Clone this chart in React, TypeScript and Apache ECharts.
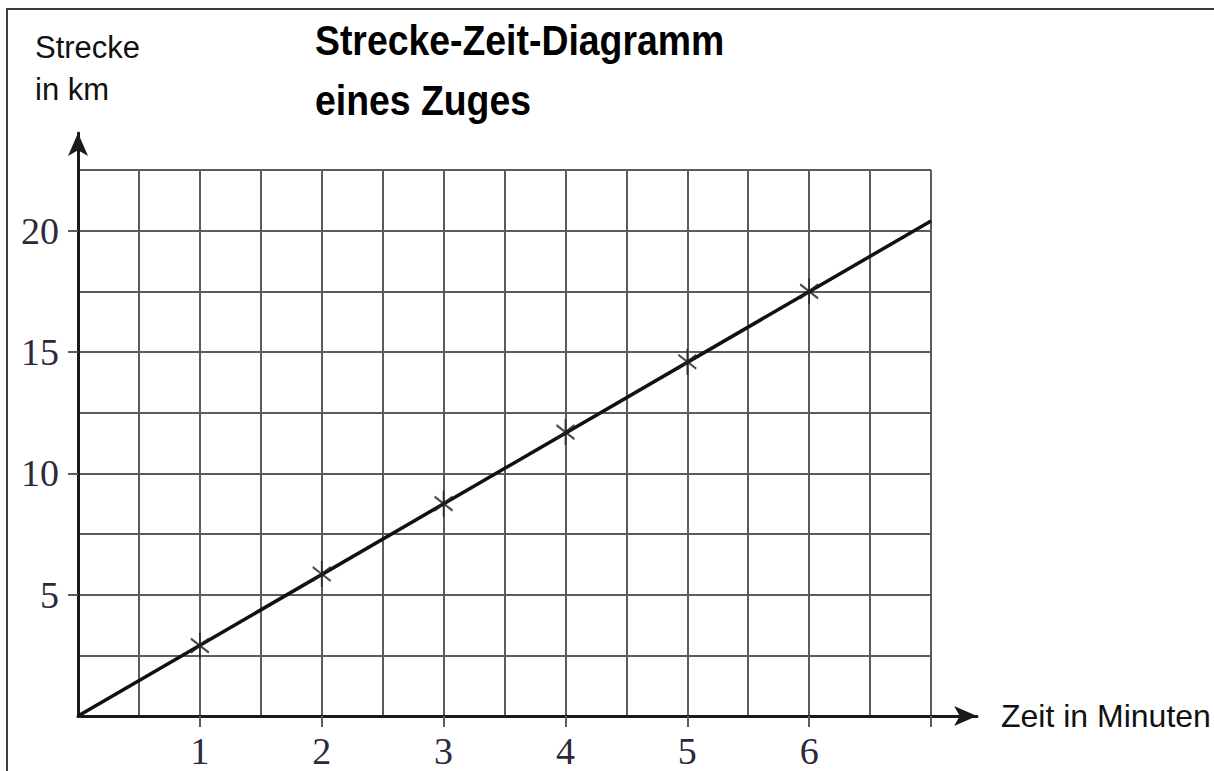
import React, { useEffect, useRef } from "react";
import * as echarts from "echarts";

// Data
const timeMinutes = [1, 2, 3, 4, 5, 6];
const distanceKm = [2.9, 5.85, 8.75, 11.7, 14.6, 17.5];
const lineTimes = [0, 7];
const lineDistances = [0, 20.4];
const xLabelValues = [1, 2, 3, 4, 5, 6];
const xTickValues = [1, 2, 3, 4, 5, 6, 7];
const yLabelValues = [5, 10, 15, 20];

const titleLine1 = "Strecke-Zeit-Diagramm";
const titleLine2 = "eines Zuges";
const yName1 = "Strecke";
const yName2 = "in km";
const xName = "Zeit in Minuten";

const SANS = "'Liberation Sans', Arial, sans-serif";
const SERIF = "'Liberation Serif', 'Times New Roman', serif";
const GRID_COLOR = "#5c5c5c";
const AXIS_COLOR = "#1a1a1a";
const LABEL_COLOR = "#2c2a3a";

const ASTERISK = "path://M10,0L10,26M0,6L20,20M0,20L20,6";

export default function App() {
  const ref = useRef<HTMLDivElement>(null);

  useEffect(() => {
    if (!ref.current) return;
    const chart = echarts.init(ref.current, undefined, { renderer: "svg" });
    const lineData = lineTimes.map((t, i) => [t, lineDistances[i]]);
    const pointData = timeMinutes.map((t, i) => [t, distanceKm[i]]);

    const hiddenAxisParts = {
      axisLine: { show: false },
      axisTick: { show: false },
      axisLabel: { show: false },
      splitLine: { show: false },
    };

    chart.setOption({
      animation: false,
      backgroundColor: "transparent",
      grid: [
        { left: 78, top: 170, width: 853, height: 546, containLabel: false },
        { left: 78, top: 133, width: 899, height: 583, containLabel: false },
      ],
      xAxis: [
        {
          // grid lines every half minute
          type: "value",
          gridIndex: 0,
          position: "bottom",
          min: 0,
          max: 7,
          interval: 0.5,
          ...hiddenAxisParts,
          splitLine: { show: true, lineStyle: { color: GRID_COLOR, width: 2 } },
        },
        {
          // arrow axis
          type: "value",
          gridIndex: 1,
          position: "bottom",
          min: 0,
          max: 1,
          ...hiddenAxisParts,
          axisLine: {
            show: true,
            symbol: ["none", "arrow"],
            symbolSize: [15, 23],
            lineStyle: { color: AXIS_COLOR, width: 3 },
          },
          name: xName,
          nameLocation: "end",
          nameGap: 24,
          nameTextStyle: {
            fontFamily: SANS,
            fontSize: 32,
            color: "#111",
            verticalAlign: "middle",
            padding: [8, 0, 0, 0],
          },
        },
        {
          // ticks and labels
          type: "value",
          gridIndex: 0,
          position: "bottom",
          min: 0,
          max: 7,
          interval: 0.5,
          ...hiddenAxisParts,
          axisTick: {
            show: true,
            customValues: xTickValues,
            length: 11,
            lineStyle: { color: GRID_COLOR, width: 2 },
          },
          axisLabel: {
            show: true,
            customValues: xLabelValues,
            margin: 16,
            fontFamily: SERIF,
            fontSize: 38,
            color: LABEL_COLOR,
          },
        },
      ],
      yAxis: [
        {
          type: "value",
          gridIndex: 0,
          position: "left",
          min: 0,
          max: 22.5,
          interval: 2.5,
          ...hiddenAxisParts,
          splitLine: { show: true, lineStyle: { color: GRID_COLOR, width: 2 } },
        },
        {
          type: "value",
          gridIndex: 1,
          position: "left",
          min: 0,
          max: 1,
          ...hiddenAxisParts,
          axisLine: {
            show: true,
            symbol: ["none", "arrow"],
            symbolSize: [15, 23],
            lineStyle: { color: AXIS_COLOR, width: 3 },
          },
        },
        {
          type: "value",
          gridIndex: 0,
          position: "left",
          min: 0,
          max: 22.5,
          interval: 2.5,
          ...hiddenAxisParts,
          axisTick: {
            show: true,
            customValues: yLabelValues,
            length: 10,
            lineStyle: { color: GRID_COLOR, width: 2 },
          },
          axisLabel: {
            show: true,
            customValues: yLabelValues,
            margin: 19,
            fontFamily: SERIF,
            fontSize: 38,
            color: LABEL_COLOR,
          },
        },
      ],
      series: [
        {
          type: "line",
          xAxisIndex: 0,
          yAxisIndex: 0,
          data: lineData,
          symbol: "none",
          lineStyle: { color: "#111", width: 3.5 },
          z: 3,
        },
        {
          type: "scatter",
          xAxisIndex: 0,
          yAxisIndex: 0,
          data: pointData,
          symbol: ASTERISK,
          symbolSize: [18, 26],
          itemStyle: {
            color: "transparent",
            borderColor: "#222",
            borderWidth: 2,
          },
          z: 4,
        },
      ],
      graphic: [
        {
          type: "text",
          x: 315,
          y: 40,
          scaleX: 0.89,
          style: {
            text: titleLine1,
            font: `bold 42px ${SANS}`,
            fill: "#000",
            verticalAlign: "middle",
            align: "left",
          },
        },
        {
          type: "text",
          x: 315,
          y: 100,
          scaleX: 0.89,
          style: {
            text: titleLine2,
            font: `bold 42px ${SANS}`,
            fill: "#000",
            verticalAlign: "middle",
            align: "left",
          },
        },
        {
          type: "text",
          x: 35,
          y: 47,
          style: {
            text: yName1,
            font: `31px ${SANS}`,
            fill: "#111",
            verticalAlign: "middle",
            align: "left",
          },
        },
        {
          type: "text",
          x: 35,
          y: 89,
          style: {
            text: yName2,
            font: `31px ${SANS}`,
            fill: "#111",
            verticalAlign: "middle",
            align: "left",
          },
        },
      ],
    });

    return () => chart.dispose();
  }, []);

  return (
    <div style={{ position: "fixed", left: 0, top: 0, width: 1214, height: 771, background: "#fff" }}>
      <div
        style={{
          position: "absolute",
          left: 6,
          top: 8,
          right: 0,
          bottom: 0,
          borderTop: "2px solid #3c3c3c",
          borderLeft: "2px solid #3c3c3c",
        }}
      />
      <div ref={ref} style={{ position: "absolute", left: 0, top: 0, width: 1214, height: 771 }} />
    </div>
  );
}
